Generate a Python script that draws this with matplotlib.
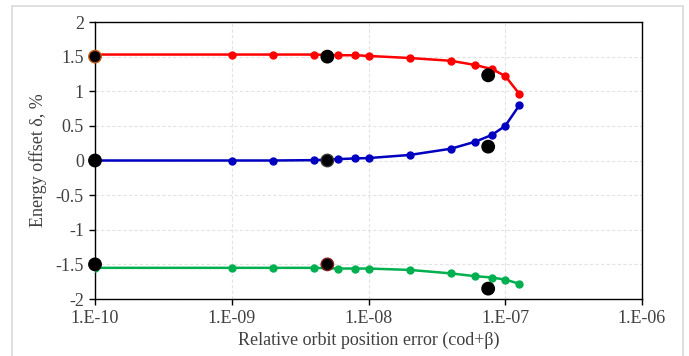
import numpy as np
import matplotlib.pyplot as plt
from matplotlib.patches import Rectangle

# relative orbit position error (cod+beta)
err = [1e-10, 1e-9, 2e-9, 4e-9, 6e-9, 8e-9, 1e-8, 2e-8, 4e-8, 6e-8, 8e-8, 1e-7, 1.27e-7]
# energy offset, %
red = [1.53, 1.53, 1.53, 1.53, 1.52, 1.52, 1.51, 1.48, 1.44, 1.38, 1.32, 1.22, 0.96]
blue = [0.0, 0.0, 0.0, 0.005, 0.02, 0.03, 0.035, 0.08, 0.17, 0.27, 0.37, 0.50, 0.80]
green = [-1.55, -1.55, -1.55, -1.55, -1.56, -1.56, -1.56, -1.58, -1.63, -1.67, -1.69, -1.72, -1.78]

# reference points (black)
ref_x = [1e-10, 1e-10, 1e-10, 5e-9, 5e-9, 5e-9, 7.5e-8, 7.5e-8, 7.5e-8]
ref_y = [1.5, 0.0, -1.5, 1.5, 0.0, -1.5, 1.23, 0.2, -1.85]
ref_edge = ['#c55a11', 'black', 'black', 'black', '#333333', '#7f1f1f', 'black', 'black', 'black']

plt.rcParams['font.family'] = ['Liberation Serif', 'DejaVu Serif']
txt = '#404040'

fig = plt.figure(figsize=(6.89, 3.56), dpi=100)
ax = fig.add_axes([0.1379, 0.1601, 0.7939, 0.7781])

fig.patches.append(Rectangle((12 / 689, -0.05), 671 / 689, 1 - 6 / 356 + 0.05,
                             transform=fig.transFigure, fill=False,
                             edgecolor='#d9d9d9', linewidth=1.2))

ax.plot(err, red, '-o', color='#ff0000', lw=1.8, ms=5, zorder=3)
ax.plot(err, blue, '-o', color='#0000c0', lw=1.8, ms=5, zorder=3)
ax.plot(err, green, '-o', color='#00b050', lw=1.8, ms=5, zorder=3)
ax.scatter(ref_x, ref_y, s=80, c='black', edgecolors=ref_edge, linewidths=1, zorder=5, clip_on=False)

ax.set_xscale('log')
ax.set_xlim(1e-10, 1e-6)
ax.set_ylim(-2, 2)
ax.set_xticks([1e-10, 1e-9, 1e-8, 1e-7, 1e-6])
ax.set_xticklabels(['1.E-10', '1.E-09', '1.E-08', '1.E-07', '1.E-06'])
ax.xaxis.set_minor_locator(plt.NullLocator())
ax.set_yticks(np.arange(-2, 2.01, 0.5))
ax.set_yticklabels(['-2', '-1.5', '-1', '-0.5', '0', '0.5', '1', '1.5', '2'])
ax.grid(True, color='#e3e3e3', linestyle=(0, (3, 2)), linewidth=0.8)
ax.set_axisbelow(True)
ax.tick_params(labelsize=13, labelcolor=txt, direction='out', length=4, width=1, pad=4)
for s in ax.spines.values():
    s.set_color('black')
    s.set_linewidth(1)
ax.set_xlabel('Relative orbit position error (cod+β)', fontsize=13, color=txt, labelpad=3)
ax.set_ylabel('Energy offset δ, %', fontsize=13, color=txt, labelpad=6)

fig.savefig('out.png', dpi=100)
